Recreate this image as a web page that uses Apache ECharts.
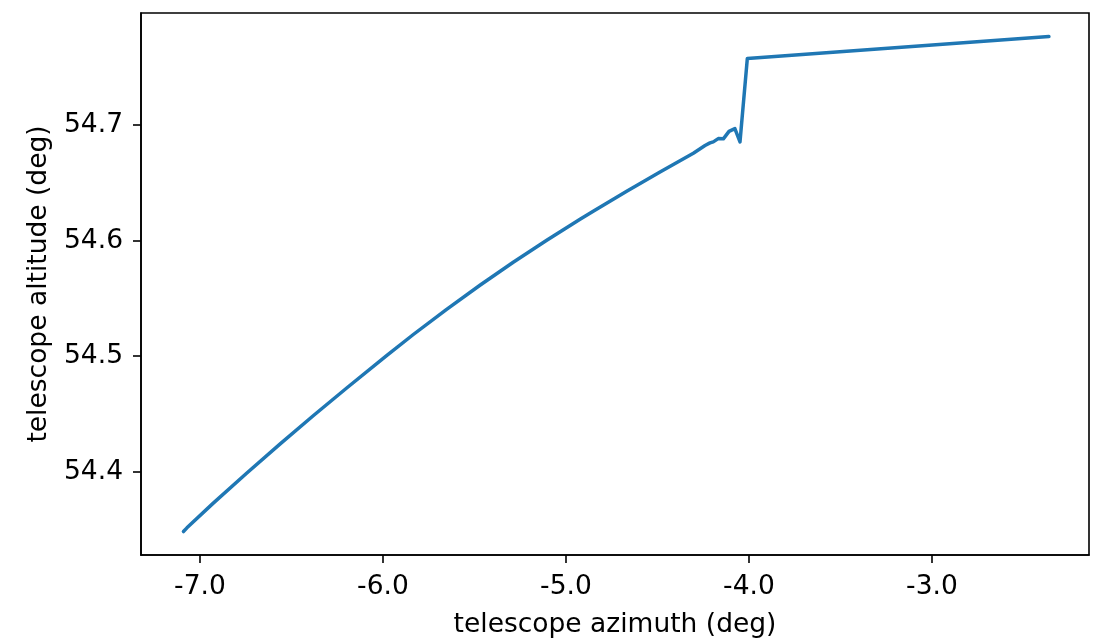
<!DOCTYPE html>
<html>
<head>
<meta charset="utf-8">
<script src="https://cdn.jsdelivr.net/npm/echarts@6/dist/echarts.min.js"></script>
<style>
html,body{margin:0;padding:0;background:#fff;}
#chart{width:1094px;height:640px;}
</style>
</head>
<body>
<div id="chart"></div>
<script>
// telescope azimuth (deg)
const azimuth = [-7.090, -7.071, -6.927, -6.745, -6.563, -6.381, -6.198, -5.980, -5.834, -5.652,
  -5.470, -5.288, -5.105, -4.923, -4.851, -4.668, -4.486, -4.304, -4.240, -4.213,
  -4.195, -4.168, -4.140, -4.109, -4.077, -4.049, -4.009, -2.361];
// telescope altitude (deg)
const altitude = [54.3483, 54.3515, 54.3729, 54.3987, 54.4239, 54.4485, 54.4725, 54.5005, 54.5188, 54.5406,
  54.5614, 54.5813, 54.6003, 54.6185, 54.6255, 54.6428, 54.6595, 54.6757, 54.6823, 54.6846,
  54.6855, 54.6883, 54.6881, 54.6946, 54.6970, 54.6855, 54.7576, 54.7766];
const xTicks = [-7, -6, -5, -4, -3];
const yTicks = [54.4, 54.5, 54.6, 54.7];
const xLabel = 'telescope azimuth (deg)';
const yLabel = 'telescope altitude (deg)';

const points = azimuth.map((a, i) => [a, altitude[i]]);
const font = 'DejaVu Sans';
const chart = echarts.init(document.getElementById('chart'), null, {renderer: 'canvas'});
chart.setOption({
  animation: false,
  backgroundColor: '#ffffff',
  grid: {left: 141, right: 5, top: 13, bottom: 85, containLabel: false, outerBoundsMode: 'none',
    show: true, borderColor: '#000', borderWidth: 1.6, backgroundColor: 'transparent'},
  xAxis: {
    type: 'value', min: -7.322, max: -2.142,
    name: xLabel, nameLocation: 'middle', nameGap: 57,
    nameTextStyle: {fontFamily: font, fontSize: 26.5, color: '#000'},
    axisLine: {show: true, lineStyle: {color: '#000', width: 1.6}},
    axisTick: {show: true, length: 8, inside: false, customValues: xTicks, lineStyle: {color: '#000', width: 1.6}},
    axisLabel: {customValues: xTicks, margin: 19, fontFamily: font, fontSize: 26.5, color: '#000',
      formatter: v => v.toFixed(1)},
    splitLine: {show: false}
  },
  yAxis: {
    type: 'value', min: 54.328, max: 54.797,
    name: yLabel, nameLocation: 'middle', nameGap: 83,
    nameTextStyle: {fontFamily: font, fontSize: 26.5, color: '#000'},
    axisLine: {show: true, lineStyle: {color: '#000', width: 1.6}},
    axisTick: {show: true, length: 8, inside: false, customValues: yTicks, lineStyle: {color: '#000', width: 1.6}},
    axisLabel: {customValues: yTicks, margin: 18, fontFamily: font, fontSize: 26.5, color: '#000',
      formatter: v => v.toFixed(1)},
    splitLine: {show: false}
  },
  series: [{
    type: 'line', data: points, showSymbol: false, smooth: false,
    lineStyle: {color: '#1f77b4', width: 3.5, cap: 'round', join: 'round'},
    clip: true
  }]
});
</script>
</body>
</html>
